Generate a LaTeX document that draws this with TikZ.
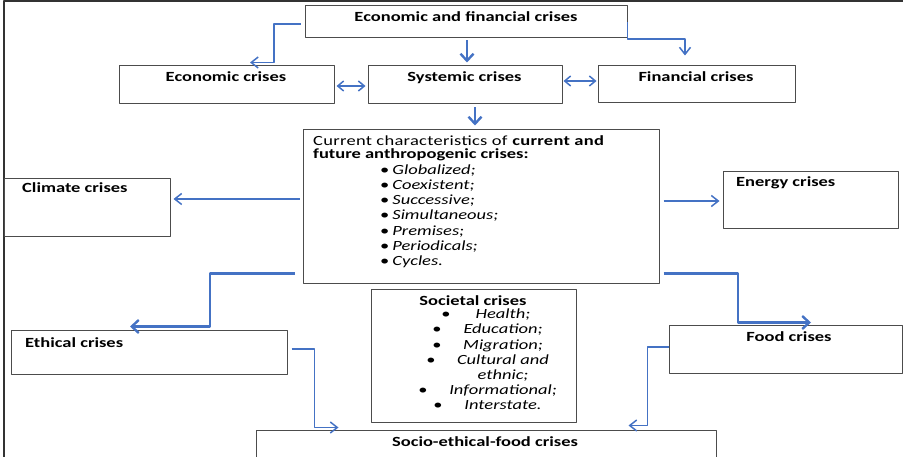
\documentclass[tikz,border=0pt]{standalone}
\usepackage{fontspec}
\setmainfont{Carlito}[FakeStretch=1.32]
\usetikzlibrary{arrows.meta,positioning}
\definecolor{arrowblue}{HTML}{4472C4}
\begin{document}
\begin{tikzpicture}[x=1pt,y=-1pt,font=\fontsize{14}{15}\selectfont,line join=round,
  box/.style={draw=black!70,line width=1pt,inner sep=0pt},
  lbl/.style={anchor=base,inner sep=0pt,font=\fontsize{14}{15}\selectfont\bfseries},
  txt/.style={anchor=base west,inner sep=0pt},
  arr/.style={draw=arrowblue,line width=1.5pt,-{Straight Barb[length=7pt,width=11pt,line width=1.5pt]}},
  arrthick/.style={draw=arrowblue,line width=2.4pt,-{Straight Barb[length=7pt,width=13pt]}},
  dbl/.style={draw=arrowblue,line width=1.5pt,{Straight Barb[length=6pt,width=10pt,line width=1.5pt]}-{Straight Barb[length=6pt,width=10pt,line width=1.5pt]}}]
\useasboundingbox (0,0) rectangle (903,457);
\draw[line width=2pt,black!80] (3.5,457) -- (3.5,1) -- (903,1);
% boxes
\node[box,minimum width=322,minimum height=32] (top) at (466,22) {};
\node[box,minimum width=215,minimum height=38] (econ) at (226.5,85) {};
\node[box,minimum width=194,minimum height=38] (sys) at (465,85) {};
\node[box,minimum width=197,minimum height=37] (fin) at (696.5,84.5) {};
\node[box,minimum width=356,minimum height=154] (cur) at (481,207) {};
\node[box,minimum width=166,minimum height=58] (clim) at (87,208) {};
\node[box,minimum width=175,minimum height=57] (energy) at (810.5,200.5) {};
\node[box,minimum width=205,minimum height=132] (soc) at (473.5,356) {};
\node[box,minimum width=276,minimum height=43] (eth) at (149,352.5) {};
\node[box,minimum width=233,minimum height=47] (food) at (785.5,349.5) {};
\node[box,minimum width=460,minimum height=50] (sef) at (486,455) {};
% titles
\node[lbl] (toplbl) at (466,21.5) {Economic and financial crises};
\node[lbl] (econlbl) at (226,82) {Economic crises};
\node[lbl] (syslbl) at (464.5,82) {Systemic crises};
\node[lbl] (finlbl) at (696,82) {Financial crises};
\node[lbl,anchor=base west] (climlbl) at (22,193) {Climate crises};
\node[lbl,anchor=base west] (energylbl) at (736,186.5) {Energy crises};
\node[lbl,anchor=base west] (ethlbl) at (25,347) {Ethical crises};
\node[lbl] (foodlbl) at (789,341.5) {Food crises};
\node[lbl] (seflbl) at (485,446) {Socio-ethical-food crises};
\node[lbl] (soclbl) at (473,305.5) {Societal crises};
% characteristics
\node[txt] (cur1) at (313,146) {\addfontfeature{LetterSpace=2}Current characteristics of \textbf{current and}};
\node[txt] (cur2) at (313,158.3) {\textbf{future anthropogenic crises:}};
\foreach \t [count=\i] in {Globalized;,Coexistent;,Successive;,Simultaneous;,Premises;,Periodicals;,Cycles.}
  \node[txt] (ch\i) at (380,159.1+15.2*\i) {\textbullet\hspace{3pt}\textit{\t}};
% societal items
\foreach \y/\t/\b [count=\i] in {319/Health;/446,334/Education;/437,349/Migration;/437,364/Cultural and/431,394/Informational;/423,409/Interstate./438}{
  \node[anchor=base,inner sep=0pt] (so\i) at (503,\y) {\textit{\t}};
  \node[anchor=base,inner sep=0pt] (sob\i) at (\b,\y) {\textbullet};
}
\node[anchor=base,inner sep=0pt] (soethnic) at (503,379) {\textit{ethnic;}};
% connectors
\draw[arr] ([xshift=-4pt,yshift=-2pt]top.west) -| ([xshift=47.5pt,yshift=3pt]econ.north) -- ([xshift=23.5pt,yshift=3pt]econ.north);
\draw[arrthick] ([xshift=1pt,yshift=-2pt]top.south) -- ([xshift=2pt,yshift=3pt]sys.north);
\draw[arr] (top.east) -- ++(0,17) -| ([xshift=-11.5pt,yshift=10pt]fin.north);
\draw[dbl] ([xshift=2pt,yshift=-1pt]econ.east) -- ([xshift=-2pt,yshift=-1pt]sys.west);
\draw[dbl] ([xshift=1pt,yshift=4pt]sys.east) -- ([xshift=-1pt,yshift=3.5pt]fin.west);
\draw[arrthick] ([xshift=10pt,yshift=-3pt]sys.south) -- ([xshift=-6pt,yshift=4pt]cur.north);
\draw[arr] ([xshift=-3pt,yshift=8pt]cur.west) -- ([xshift=3pt,yshift=9pt]clim.east);
\draw[arr] ([xshift=4pt,yshift=6pt]cur.east) -- ([xshift=-3pt,yshift=-0.5pt]energy.west);
\draw[arrthick] ([xshift=-8pt,yshift=11pt]cur.south west) -| ([xshift=61pt,yshift=4pt]eth.north) -- ([xshift=-19pt,yshift=4pt]eth.north);
\draw[arrthick] ([xshift=4pt,yshift=11pt]cur.south east) -| ([xshift=-47.5pt,yshift=3pt]food.north) -- ([xshift=25.5pt,yshift=3pt]food.north);
\draw[arr] ([xshift=4pt,yshift=3.5pt]eth.east) -| ([xshift=59pt,yshift=2pt]sef.north west) -- ([xshift=83pt,yshift=2pt]sef.north west);
\draw[arr] ([yshift=2.5pt]food.west) -| ([xshift=-69pt,yshift=4pt]sef.north east) -- ([xshift=-88pt,yshift=4pt]sef.north east);
\end{tikzpicture}
\end{document}
